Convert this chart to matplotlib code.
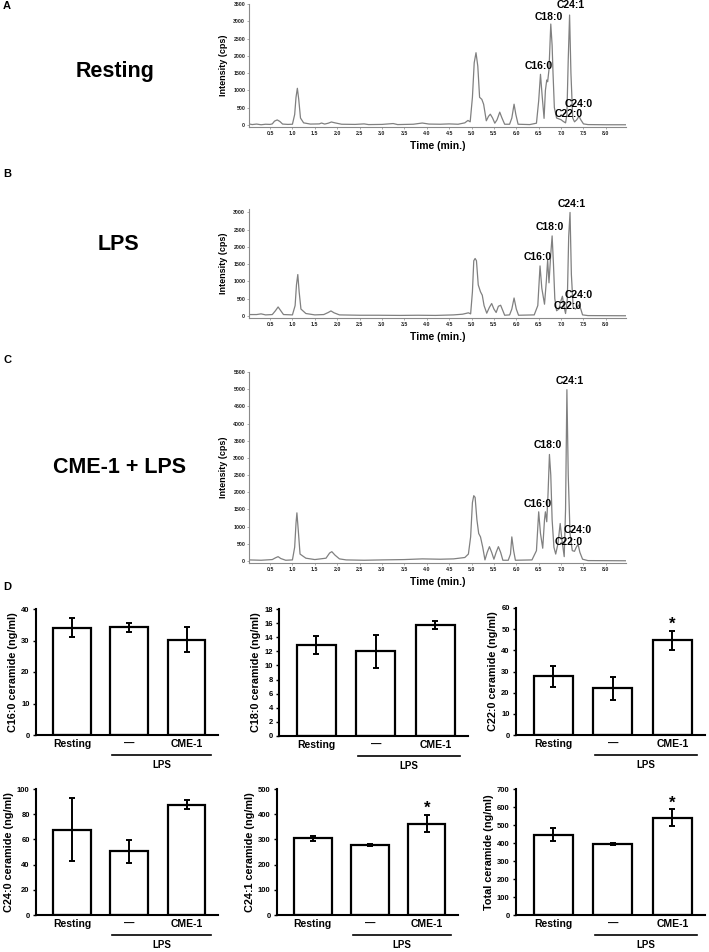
import matplotlib
matplotlib.use("Agg")
import matplotlib.pyplot as plt
import matplotlib.transforms as mtransforms
import numpy as np

plt.rcParams['font.family'] = ['Liberation Sans', 'DejaVu Sans']
plt.rcParams['font.weight'] = 'bold'

W, H = 709, 952

# chromatogram traces, (time min, intensity cps)
resting_t = [0.03, 0.1, 0.2, 0.3, 0.4, 0.5, 0.55, 0.6, 0.66, 0.72, 0.78, 0.9, 1.0, 1.05, 1.08, 1.11, 1.14, 1.18,
             1.25, 1.4, 1.6, 1.65, 1.72, 1.8, 1.87, 1.95, 2.1, 2.4, 2.6, 2.7, 3.0, 3.25, 3.35, 3.7, 3.9, 4.05,
             4.3, 4.5, 4.7, 4.85, 4.92, 4.97, 5.02, 5.06, 5.1, 5.14, 5.18, 5.23, 5.27, 5.33, 5.38, 5.42, 5.47,
             5.52, 5.57, 5.63, 5.68, 5.74, 5.85, 5.9, 5.95, 5.99, 6.04, 6.3, 6.45, 6.5, 6.54, 6.58, 6.62, 6.65,
             6.68, 6.7, 6.73, 6.77, 6.8, 6.82, 6.85, 6.9, 6.96, 7.0, 7.05, 7.1, 7.13, 7.16, 7.19, 7.22, 7.26,
             7.3, 7.35, 7.4, 7.44, 7.5, 7.6, 8.0, 8.45]
resting_i = [30, 10, 25, 5, 20, 15, 30, 110, 145, 100, 25, 15, 20, 300, 800, 1060, 750, 200,
             60, 25, 30, 55, 25, 50, 85, 60, 20, 15, 30, 10, 15, 40, 10, 20, 55, 25,
             20, 30, 20, 60, 130, 90, 800, 1800, 2090, 1700, 800, 740, 600, 120, 250, 310, 200,
             50, 150, 370, 200, 20, 20, 200, 600, 300, 20, 10, 50, 700, 1465, 800, 190, 1000,
             1300, 1250, 1600, 2920, 2300, 1500, 500, 200, 170, 150, 100, 60, 300, 1900, 3180, 1500, 200,
             90, 150, 250, 150, 30, 10, 5, 5]

lps_t = [0.03, 0.2, 0.3, 0.4, 0.55, 0.62, 0.68, 0.74, 0.8, 1.0, 1.06, 1.09, 1.12, 1.15, 1.19, 1.3, 1.5, 1.7,
         1.8, 1.86, 1.93, 2.05, 2.5, 2.9, 3.4, 3.8, 4.2, 4.6, 4.8, 4.93, 4.98, 5.02, 5.05, 5.08, 5.11, 5.15,
         5.2, 5.24, 5.28, 5.34, 5.4, 5.45, 5.5, 5.55, 5.6, 5.65, 5.7, 5.74, 5.85, 5.9, 5.95, 6.0, 6.05, 6.4,
         6.48, 6.53, 6.57, 6.63, 6.67, 6.7, 6.73, 6.77, 6.8, 6.83, 6.86, 6.9, 6.95, 7.0, 7.03, 7.06, 7.1,
         7.14, 7.17, 7.2, 7.23, 7.27, 7.32, 7.36, 7.4, 7.44, 7.48, 7.6, 8.45]
lps_i = [40, 40, 60, 30, 40, 150, 260, 150, 40, 30, 300, 900, 1200, 700, 200, 70, 30, 40,
         100, 145, 90, 30, 20, 20, 15, 20, 15, 30, 50, 90, 60, 700, 1600, 1665, 1600, 900,
         700, 600, 300, 80, 250, 360, 200, 100, 280, 310, 150, 20, 30, 200, 520, 200, 20, 30,
         300, 1450, 800, 340, 1000, 1620, 960, 1800, 2320, 1500, 500, 150, 200, 450, 570, 300, 70,
         500, 2300, 3000, 1200, 250, 200, 250, 320, 200, 30, 10, 5]

cme_t = [0.03, 0.3, 0.55, 0.62, 0.68, 0.74, 0.85, 1.0, 1.05, 1.08, 1.1, 1.13, 1.17, 1.3, 1.5, 1.75, 1.83,
         1.88, 1.95, 2.05, 2.2, 2.6, 3.0, 3.5, 3.9, 4.3, 4.6, 4.85, 4.93, 4.98, 5.02, 5.05, 5.08, 5.12,
         5.16, 5.2, 5.25, 5.3, 5.35, 5.4, 5.45, 5.5, 5.55, 5.6, 5.65, 5.7, 5.82, 5.87, 5.9, 5.94, 5.98,
         6.35, 6.45, 6.5, 6.54, 6.59, 6.63, 6.65, 6.68, 6.71, 6.74, 6.77, 6.8, 6.84, 6.88, 6.93, 6.98,
         7.02, 7.07, 7.1, 7.13, 7.16, 7.2, 7.25, 7.3, 7.34, 7.38, 7.42, 7.48, 7.6, 8.45]
cme_i = [30, 20, 40, 90, 125, 70, 20, 30, 400, 1100, 1400, 900, 200, 80, 40, 80, 230,
         270, 170, 60, 30, 20, 30, 40, 60, 50, 60, 100, 200, 700, 1700, 1900, 1850, 1200,
         800, 700, 400, 30, 250, 415, 250, 50, 250, 415, 250, 20, 20, 200, 700, 300, 20,
         30, 300, 1430, 800, 370, 1200, 1430, 1140, 2000, 3100, 2500, 1200, 400, 200, 500, 1090,
         600, 125, 1500, 4985, 2500, 800, 300, 280, 400, 480, 250, 50, 10, 5]

peak_names = ["C16:0", "C18:0", "C24:1", "C24:0", "C22:0"]
resting_lbl_t = [6.50, 6.73, 7.21, 7.40, 7.17]
resting_lbl_i = [1707, 3134, 3480, 607, 318]
lps_lbl_t = [6.47, 6.74, 7.23, 7.40, 7.15]
lps_lbl_i = [1713, 2565, 3243, 600, 280]
cme_lbl_t = [6.48, 6.71, 7.20, 7.38, 7.17]
cme_lbl_i = [1655, 3388, 5237, 900, 561]

# ceramide levels (ng/ml), groups: Resting, LPS, CME-1 + LPS
groups = ["Resting", "\u2014", "CME-1"]
c16 = [34.0, 34.2, 30.3]
c16_err = [3.0, 1.5, 4.0]
c18 = [12.9, 12.0, 15.7]
c18_err = [1.3, 2.3, 0.6]
c22 = [27.8, 22.0, 44.7]
c22_err = [5.0, 5.3, 4.5]
c24 = [67.5, 50.5, 87.5]
c24_err = [25.0, 9.0, 3.5]
c241 = [304, 277, 363]
c241_err = [10, 3, 35]
total = [447, 396, 541]
total_err = [38, 5, 47]


def px_axes(left, top, right, bottom):
    return fig.add_axes([left / W, 1 - bottom / H, (right - left) / W, (bottom - top) / H])


fig = plt.figure(figsize=(W / 100, H / 100), dpi=100)


def chromatogram(ax, t, inten, ymax, lbl_t, lbl_i):
    ax.plot(t, inten, color='#808080', lw=0.9)
    ax.set_xlim(0.03, 8.45)
    ax.set_ylim(-60, ymax)
    ax.set_yticks(np.arange(0, ymax + 1, 500))
    ax.set_xticks(np.arange(0.5, 8.01, 0.5))
    ax.set_xticklabels([f"{v:.1f}" for v in np.arange(0.5, 8.01, 0.5)])
    for s in ['top', 'right']:
        ax.spines[s].set_visible(False)
    for s in ['left', 'bottom']:
        ax.spines[s].set_color('#8a8a8a')
        ax.spines[s].set_linewidth(0.8)
    ax.tick_params(labelsize=3.8, length=1.2, width=0.5, pad=1.5, colors='#8a8a8a', labelcolor='#222222')
    ax.set_ylabel("Intensity (cps)", fontsize=6.5, fontweight='bold', labelpad=4)
    ax.set_xlabel("Time (min.)", fontsize=7.5, fontweight='bold', labelpad=4)
    for name, x, y in zip(peak_names, lbl_t, lbl_i):
        ax.text(x, y, name, fontsize=7.5, fontweight='bold', ha='center', va='center', clip_on=False)


axA = px_axes(249, 4, 626, 127)
chromatogram(axA, resting_t, resting_i, 3500, resting_lbl_t, resting_lbl_i)
axB = px_axes(249, 209, 626, 318)
chromatogram(axB, lps_t, lps_i, 3100, lps_lbl_t, lps_lbl_i)
axC = px_axes(249, 372, 626, 563)
chromatogram(axC, cme_t, cme_i, 5500, cme_lbl_t, cme_lbl_i)

fig.text(115 / W, 1 - 72 / H, "Resting", fontsize=15.5, fontweight='bold', ha='center', va='center')
fig.text(118 / W, 1 - 245 / H, "LPS", fontsize=15.5, fontweight='bold', ha='center', va='center')
fig.text(120 / W, 1 - 467 / H, "CME-1 + LPS", fontsize=15.5, fontweight='bold', ha='center', va='center')
for letter, y in [("A", 6), ("B", 174), ("C", 360), ("D", 587)]:
    fig.text(3 / W, 1 - y / H, letter, fontsize=8, fontweight='bold', ha='left', va='center')


def bar_panel(ax, vals, errs, ylabel, ymax, ystep, star):
    x = np.arange(len(groups))
    ax.bar(x, vals, width=0.66, color='white', edgecolor='black', linewidth=1.6, zorder=2)
    ax.errorbar(x, vals, yerr=errs, fmt='none', ecolor='black', elinewidth=1.4,
                capsize=2.5, capthick=1.4, zorder=3)
    ax.set_xlim(-0.63, 2.55)
    ax.set_ylim(0, ymax)
    ax.set_yticks(np.arange(0, ymax + 0.01, ystep))
    ax.set_xticks(x)
    ax.set_xticklabels(groups)
    for s in ['top', 'right']:
        ax.spines[s].set_visible(False)
    for s in ['left', 'bottom']:
        ax.spines[s].set_linewidth(1.5)
    ax.tick_params(axis='y', labelsize=5.5, length=2.5, width=1, pad=2)
    ax.tick_params(axis='x', labelsize=7.5, length=0, pad=3)
    ax.set_ylabel(ylabel, fontsize=7.8, fontweight='bold', labelpad=2)
    tr = mtransforms.blended_transform_factory(ax.transData, ax.transAxes)
    ax.plot([0.7, 2.42], [-0.155, -0.155], color='black', lw=1.2, transform=tr, clip_on=False)
    ax.text(1.56, -0.235, "LPS", fontsize=7, fontweight='bold', ha='center', va='center',
            transform=tr)
    if star:
        ax.text(2, vals[2] + errs[2] + ymax * 0.05, "*", fontsize=12, fontweight='bold',
                ha='center', va='center')


p1 = px_axes(36, 609, 218, 735)
bar_panel(p1, c16, c16_err, "C16:0 ceramide (ng/ml)", 40, 10, False)
p2 = px_axes(279, 609, 468, 736)
bar_panel(p2, c18, c18_err, "C18:0 ceramide (ng/ml)", 18, 2, False)
p3 = px_axes(516, 608, 705, 735)
bar_panel(p3, c22, c22_err, "C22:0 ceramide (ng/ml)", 60, 10, True)
p4 = px_axes(36, 789, 218, 915)
bar_panel(p4, c24, c24_err, "C24:0 ceramide (ng/ml)", 100, 20, False)
p5 = px_axes(277, 789, 458, 915)
bar_panel(p5, c241, c241_err, "C24:1 ceramide (ng/ml)", 500, 100, True)
p6 = px_axes(516, 789, 705, 915)
bar_panel(p6, total, total_err, "Total ceramide (ng/ml)", 700, 100, True)

fig.savefig("out.png", dpi=100)
